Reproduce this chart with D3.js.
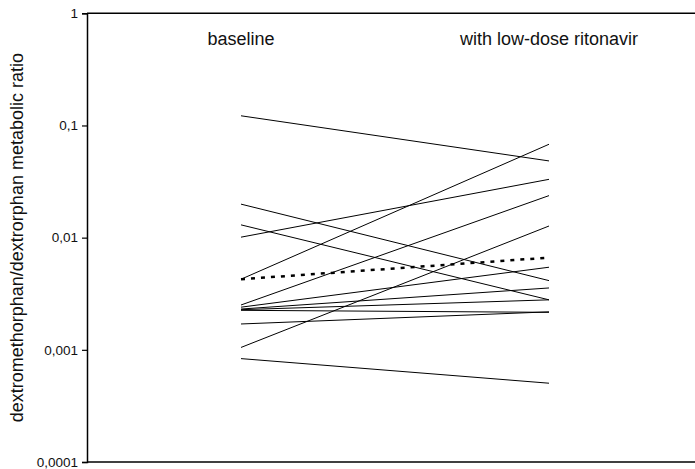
<!DOCTYPE html>
<html>
<head>
<meta charset="utf-8">
<script src="https://cdn.jsdelivr.net/npm/d3@7"></script>
<style>
  html, body { margin: 0; padding: 0; background: #fff; }
  svg { display: block; font-family: "Liberation Sans", Arial, sans-serif; }
</style>
</head>
<body>
<svg id="chart" width="695" height="469"></svg>
<script>
// Conditions (x positions)
const conditions = ["baseline", "with low-dose ritonavir"];

// Individual metabolic ratios, one entry per subject
const baselineRatio = [0.122, 0.0199, 0.0130, 0.0101, 0.00426, 0.00251, 0.00240, 0.00231, 0.00228, 0.00225, 0.00170, 0.00105, 0.000835];
const ritonavirRatio = [0.0483, 0.00414, 0.00279, 0.0331, 0.0680, 0.0237, 0.00545, 0.00356, 0.00279, 0.00216, 0.00218, 0.0127, 0.000504];

// Group mean (dashed)
const meanRatio = [0.00426, 0.00664];

// Y axis ticks and their labels (decimal comma)
const tickValues = [0.0001, 0.001, 0.01, 0.1, 1];
const tickLabels = ["0,0001", "0,001", "0,01", "0,1", "1"];

const yTitle = "dextromethorphan/dextrorphan metabolic ratio";

const svg = d3.select("#chart");
const W = 695, H = 469;
const m = { left: 87, top: 13.3, bottom: 7 };

const x = d3.scalePoint().domain(conditions).range([241, 549]);
const y = d3.scaleLog().domain([0.0001, 1]).range([H - m.bottom, m.top]);

// Frame: top and bottom rules running to the right edge
svg.append("line")
  .attr("x1", m.left).attr("x2", W)
  .attr("y1", y(1)).attr("y2", y(1))
  .attr("stroke", "#000").attr("stroke-width", 1.5);
svg.append("line")
  .attr("x1", m.left).attr("x2", W)
  .attr("y1", y(0.0001)).attr("y2", y(0.0001))
  .attr("stroke", "#000").attr("stroke-width", 1.5);

// Y axis
const yAxis = d3.axisLeft(y)
  .tickValues(tickValues)
  .tickFormat((d, i) => tickLabels[i])
  .tickSize(5)
  .tickPadding(4);
const gy = svg.append("g")
  .attr("transform", `translate(${m.left},0)`)
  .call(yAxis);
gy.select(".domain").attr("stroke", "#000").attr("stroke-width", 1.5);
gy.selectAll(".tick line").attr("stroke", "#000").attr("stroke-width", 1.2);
gy.selectAll(".tick text")
  .attr("font-size", 13.5)
  .attr("fill", "#111")
  .attr("font-family", "Liberation Sans, Arial, sans-serif");

// Y axis title
svg.append("text")
  .attr("transform", `translate(23,${(y(1) + y(0.0001)) / 2}) rotate(-90)`)
  .attr("text-anchor", "middle")
  .attr("font-size", 18)
  .attr("fill", "#111")
  .text(yTitle);

// Condition labels
svg.selectAll("text.cond")
  .data(conditions)
  .join("text")
  .attr("class", "cond")
  .attr("x", d => x(d))
  .attr("y", 45)
  .attr("text-anchor", "middle")
  .attr("font-size", 18)
  .attr("fill", "#111")
  .text(d => d);

// Subject lines
const pairs = baselineRatio.map((b, i) => [b, ritonavirRatio[i]]);
const line = d3.line()
  .x((d, i) => x(conditions[i]))
  .y(d => y(d));

svg.append("g")
  .selectAll("path")
  .data(pairs)
  .join("path")
  .attr("d", line)
  .attr("fill", "none")
  .attr("stroke", "#000")
  .attr("stroke-width", 1);

// Mean line
svg.append("path")
  .attr("d", line(meanRatio))
  .attr("fill", "none")
  .attr("stroke", "#000")
  .attr("stroke-width", 2.5)
  .attr("stroke-dasharray", "4,6");
</script>
</body>
</html>
